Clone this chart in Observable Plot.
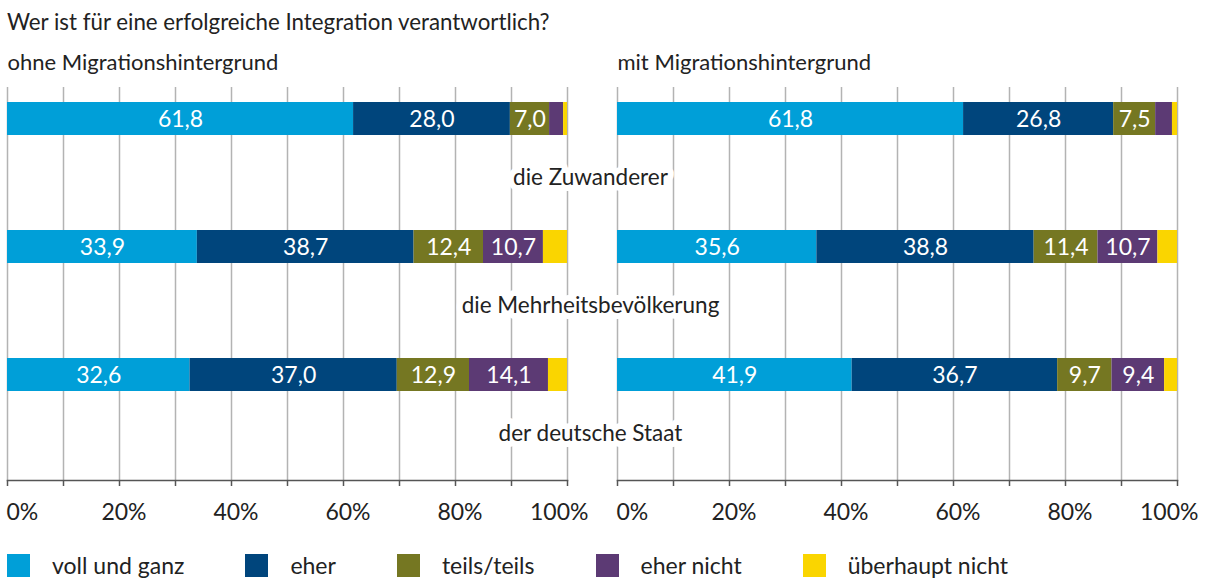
<!DOCTYPE html>
<html><head><meta charset="utf-8">
<script src="https://cdn.jsdelivr.net/npm/d3@7"></script>
<script src="https://cdn.jsdelivr.net/npm/@observablehq/plot@0.6"></script>
<style>
body{margin:0;background:#fff;font-family:Lato,sans-serif;color:#222;width:1205px;height:579px;overflow:hidden;position:relative}
#title{position:absolute;left:7px;top:8px;font-size:22.3px;line-height:28px;white-space:nowrap}
#chart{position:absolute;left:0;top:40px}
#legend{position:absolute;left:7px;top:554px;display:flex;font-size:23px}
.item{display:flex;align-items:flex-start;margin-right:61px}
.sw{width:23px;height:23px;margin-right:22px}
.lab{line-height:23px;margin-top:0px;white-space:nowrap}
</style></head><body>
<div id="title"></div><div id="chart"></div><div id="legend"></div>
<script>
const titleText = "Wer ist für eine erfolgreiche Integration verantwortlich?";
const groups = ["ohne Migrationshintergrund", "mit Migrationshintergrund"];
const categories = ["die Zuwanderer", "die Mehrheitsbevölkerung", "der deutsche Staat"];
const answers = ["voll und ganz", "eher", "teils/teils", "eher nicht", "überhaupt nicht"];
const answerColors = ["#009fd8", "#00457c", "#757722", "#5c3a74", "#fad500"];
const ohneValues = [[61.8, 28.0, 7.0, 2.5, 0.7], [33.9, 38.7, 12.4, 10.7, 4.3], [32.6, 37.0, 12.9, 14.1, 3.4]];
const mitValues = [[61.8, 26.8, 7.5, 3.0, 0.9], [35.6, 38.8, 11.4, 10.7, 3.5], [41.9, 36.7, 9.7, 9.4, 2.3]];
const xTicks = [0, 10, 20, 30, 40, 50, 60, 70, 80, 90, 100];
const xTickLabels = ["0%", "", "20%", "", "40%", "", "60%", "", "80%", "", "100%"];

document.getElementById("title").textContent = titleText;

const rows = [];
[ohneValues, mitValues].forEach((vals, gi) =>
  vals.forEach((r, ci) =>
    r.forEach((v, ai) => rows.push({group: groups[gi], category: categories[ci], answer: answers[ai], value: v}))));

const labelOf = d => xTickLabels[xTicks.indexOf(d)];
const labeled = xTicks.filter(d => labelOf(d) !== "");
const firstTick = labeled.slice(0, 1);
const midTicks = labeled.slice(1, -1);
const lastTick = labeled.slice(-1);
const tickTextOpts = {text: labelOf, frameAnchor: "bottom", lineAnchor: "top", dy: 23, fill: "#222", fontSize: 23};

const plot = Plot.plot({
  width: 1205, height: 500,
  marginLeft: 7, marginRight: 28, marginTop: 47, marginBottom: 60,
  style: {fontFamily: "Lato, sans-serif", fontSize: "23px", color: "#333", background: "white", overflow: "visible"},
  fx: {domain: groups, paddingInner: 50 / 610, paddingOuter: 0, axis: null, label: null},
  x: {domain: [0, 100]},
  y: {domain: categories, paddingInner: 0, paddingOuter: 0.029, axis: null},
  color: {domain: answers, range: answerColors},
  marks: [
    Plot.gridX(xTicks, {stroke: "#b3b3b3", strokeOpacity: 1, strokeWidth: 1.5}),
    Plot.frame({anchor: "bottom", stroke: "#555", strokeWidth: 1.5}),
    Plot.barX(rows, Plot.stackX({x: "value", y: "category", fx: "group", fill: "answer", insetTop: 10, insetBottom: 85})),
    Plot.text(rows, Plot.stackX({
      x: "value", y: "category", fx: "group",
      text: d => d.value > 5 ? d.value.toFixed(1).replace(".", ",") : "",
      fill: "white", dy: -37, fontSize: 23
    })),
    Plot.text(categories, {
      x: () => 100, y: d => d, fx: () => groups[0], text: d => d,
      dx: 23, dy: 21, textAnchor: "middle", fill: "#222",
      stroke: "white", strokeWidth: 12, strokeLinejoin: "round", paintOrder: "stroke", fontSize: 22.5
    }),
    Plot.axisX({ticks: xTicks, tickFormat: null, text: null, tickSize: 6, stroke: "#555", strokeWidth: 1.5, label: null}),
    Plot.text(firstTick, {x: d => d, ...tickTextOpts, textAnchor: "start", dx: -1}),
    Plot.text(midTicks, {x: d => d, ...tickTextOpts, textAnchor: "middle", dx: 4.5}),
    Plot.text(lastTick, {x: d => d, ...tickTextOpts, textAnchor: "end", dx: 21}),
    Plot.text(groups, {fx: d => d, text: d => d, frameAnchor: "top-left", textAnchor: "start", lineAnchor: "bottom", dy: -18, fill: "#222", fontSize: 22})
  ]
});
document.getElementById("chart").appendChild(plot);

const legend = document.getElementById("legend");
answers.forEach((a, i) => {
  const item = document.createElement("div");
  item.className = "item";
  const sw = document.createElement("div");
  sw.className = "sw";
  sw.style.background = answerColors[i];
  const lab = document.createElement("div");
  lab.className = "lab";
  lab.textContent = a;
  item.appendChild(sw);
  item.appendChild(lab);
  legend.appendChild(item);
});
</script>
</body></html>
